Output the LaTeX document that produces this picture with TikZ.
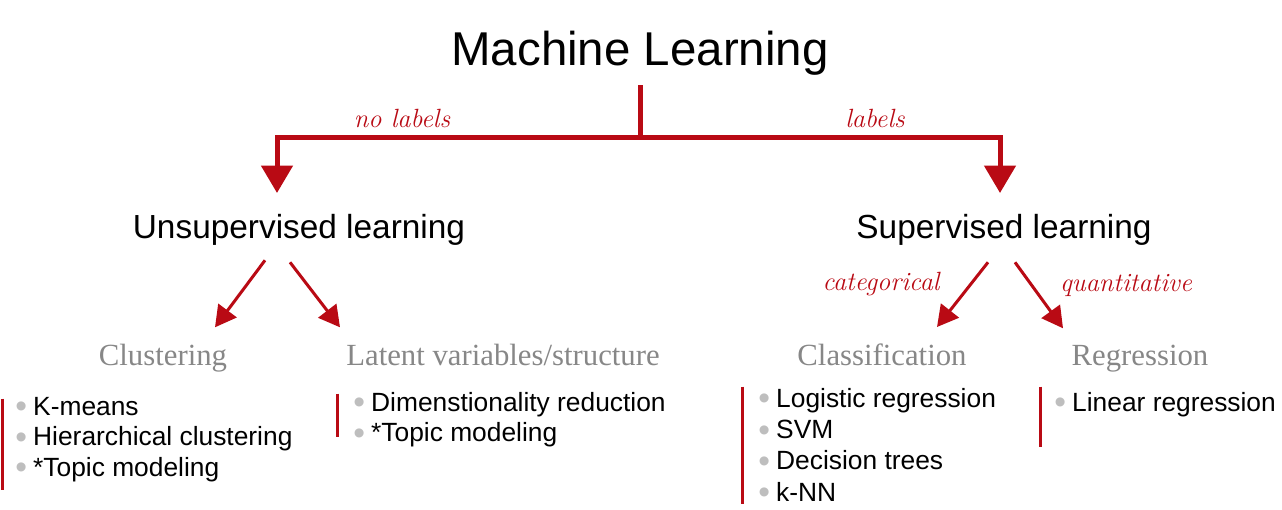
\documentclass[tikz,border=0pt]{standalone}
\usepackage{fontspec}
\usepackage{xcolor}
\usepackage{tikz}
\usetikzlibrary{arrows.meta, positioning}
\newfontfamily\helv{Liberation Sans}
\newfontfamily\headserif{Liberation Serif}
\definecolor{mlred}{RGB}{185,10,20}
\definecolor{headgray}{RGB}{135,135,135}
\definecolor{bulgray}{RGB}{190,190,190}
\newcommand{\bul}{\raisebox{-1.6pt}{\color{bulgray}\fontsize{19}{18}\selectfont\textbullet}\hspace{3.5pt}}

\begin{document}
\begin{tikzpicture}[every node/.style={inner sep=0pt}]
  \tikzset{
    title/.style={anchor=base, font=\helv\fontsize{27}{30}\selectfont},
    branch/.style={anchor=base, font=\helv\fontsize{19}{22}\selectfont},
    head/.style={anchor=base, text=headgray, font=\headserif\fontsize{17.5}{20}\selectfont},
    item/.style={anchor=base west, font=\helv\fontsize{15}{18}\selectfont},
    tag/.style={anchor=base, text=mlred, font=\itshape\fontsize{15}{18}\selectfont},
    trunk/.style={draw=mlred, line width=0.1cm},
    mainarr/.style={trunk, -{Triangle[width=0.62cm, length=0.55cm]}},
    subarr/.style={draw=mlred, line width=0.06cm, -{Triangle[width=0.45cm, length=0.42cm]}},
    bar/.style={draw=mlred, line width=0.06cm}
  }
  \useasboundingbox (0,0) rectangle (25.64,-10.18);

  % top level
  \node[title] (ml) at (12.8, -1.3) {Machine Learning};
  \coordinate (fork) at (12.8, -2.74);
  \coordinate (dl) at (5.54, -3.86);
  \coordinate (dr) at (20.0, -3.86);
  \draw[trunk] ([yshift=-0.2cm]ml.south) -- (fork);
  \draw[mainarr] (fork) -| (dl);
  \draw[mainarr] (fork) -| (dr);
  \node[tag] (nolab) at (8.04, -2.54) {no labels};
  \node[tag] (lab) at (17.5, -2.54) {labels};

  \node[branch] (unsup) at (5.98, -4.76) {Unsupervised learning};
  \node[branch] (sup) at (20.08, -4.76) {Supervised learning};

  % second level
  \node[head] (clu) at (3.26, -7.3) {Clustering};
  \node[head] (lat) at (10.06, -7.3) {Latent variables/structure};
  \node[head] (cls) at (17.64, -7.3) {Classification};
  \node[head] (reg) at (22.8, -7.3) {Regression};

  \draw[subarr] ([xshift=-0.68cm, yshift=-0.3cm]unsup.south) -- ([xshift=1.04cm, yshift=0.32cm]clu.north);
  \draw[subarr] ([xshift=-0.18cm, yshift=-0.34cm]unsup.south) -- ([xshift=-3.26cm, yshift=0.32cm]lat.north);
  \draw[subarr] ([xshift=-0.32cm, yshift=-0.34cm]sup.south) -- ([xshift=1.1cm, yshift=0.32cm]cls.north);
  \draw[subarr] ([xshift=0.22cm, yshift=-0.34cm]sup.south) -- ([xshift=-1.54cm, yshift=0.32cm]reg.north);
  \node[tag] (cat) at (17.62, -5.8) {categorical};
  \node[tag] (quant) at (22.52, -5.82) {quantitative};

  % lists
  \foreach \txt [count=\i] in {K-means, Hierarchical clustering, *Topic modeling}
    \node[item] (clu-\i) at (0.3, {-8.3-0.61*(\i-1)}) {\bul\txt};
  \foreach \txt [count=\i] in {Dimenstionality reduction, *Topic modeling}
    \node[item] (lat-\i) at (7.06, {-8.22-0.61*(\i-1)}) {\bul\txt};
  \foreach \txt [count=\i] in {Logistic regression, SVM, Decision trees, k-NN}
    \node[item] (cls-\i) at (15.16, {-8.14-0.627*(\i-1)}) {\bul\txt};
  \node[item] (reg-1) at (21.08, -8.22) {\bul Linear regression};

  \draw[bar] ([xshift=-0.26cm, yshift=-0.04cm]clu-1.north west) -- ([xshift=-0.26cm, yshift=-0.16cm]clu-3.south west);
  \draw[bar] ([xshift=-0.32cm, yshift=-0.04cm]lat-1.north west) -- ([xshift=-0.32cm, yshift=0.2cm]lat-2.south west);
  \draw[bar] ([xshift=-0.32cm, yshift=0.02cm]cls-1.north west) -- ([xshift=-0.32cm]cls-4.south west);
  \draw[bar] ([xshift=-0.28cm, yshift=0.1cm]reg-1.north west) -- ([xshift=-0.28cm, yshift=-0.6cm]reg-1.south west);
\end{tikzpicture}
\end{document}
